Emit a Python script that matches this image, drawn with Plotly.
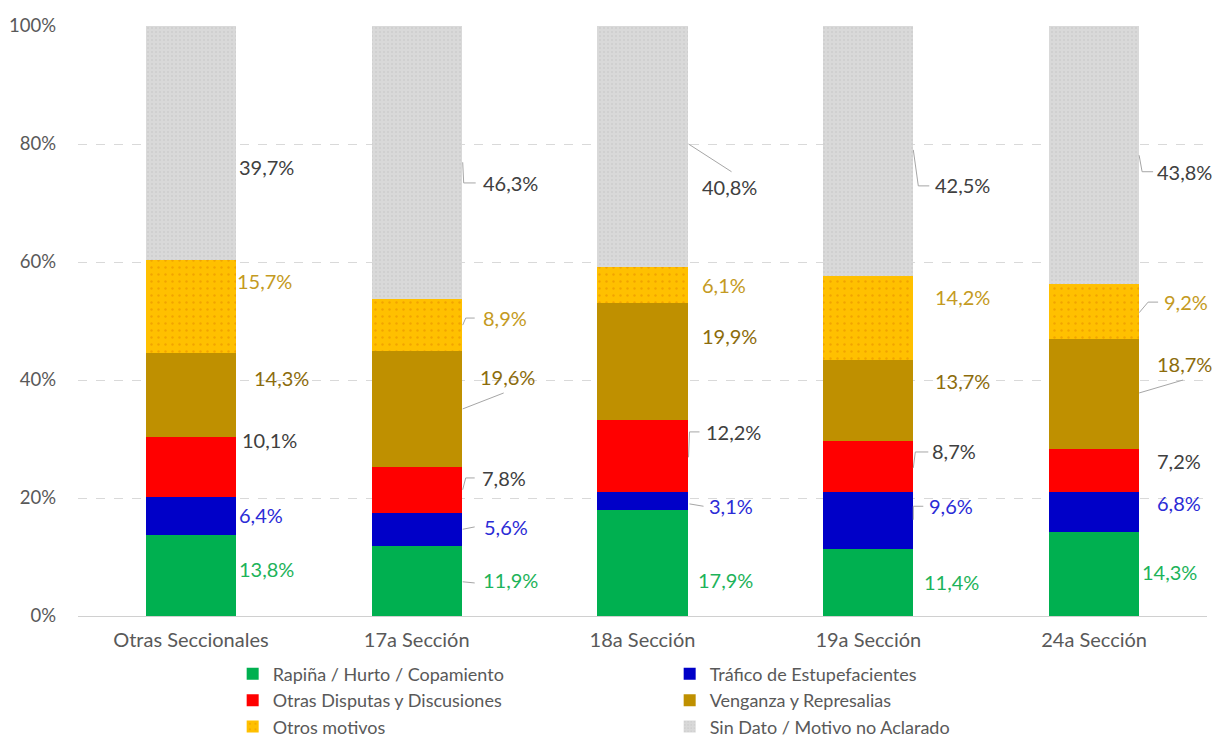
import plotly.graph_objects as go

# Homicide motives by police section (shares, %)
categories = ["Otras Seccionales", "17a Sección", "18a Sección", "19a Sección", "24a Sección"]
rapina = [13.8, 11.9, 17.9, 11.4, 14.3]
trafico = [6.4, 5.6, 3.1, 9.6, 6.8]
disputas = [10.1, 7.8, 12.2, 8.7, 7.2]
venganza = [14.3, 19.6, 19.9, 13.7, 18.7]
otros = [15.7, 8.9, 6.1, 14.2, 9.2]
sin_dato = [39.7, 46.3, 40.8, 42.5, 43.8]
y_ticks = [0, 20, 40, 60, 80, 100]
y_tick_labels = ["0%", "20%", "40%", "60%", "80%", "100%"]

series = [
    ("Rapiña / Hurto / Copamiento", rapina, "#00B050", None, "#1DB35A"),
    ("Tráfico de Estupefacientes", trafico, "#0000C8", None, "#2B2BD6"),
    ("Otras Disputas y Discusiones", disputas, "#FF0000", None, "#404040"),
    ("Venganza y Represalias", venganza, "#BF9000", None, "#8C6C0C"),
    ("Otros motivos", otros, "#FFC000",
     dict(shape=".", fillmode="overlay", fgcolor="#E38800", size=7, solidity=0.1), "#C49A22"),
    ("Sin Dato / Motivo no Aclarado", sin_dato, "#D9D9D9",
     dict(shape=".", fillmode="overlay", fgcolor="#C2C2C2", size=4, solidity=0.2), "#404040"),
]

# Label placement: pixel offset from bar centre (text left edge) and height in %
label_dx = [
    [46, 46, 49, 61, 44, 46],
    [64, 65, 63, 61, 64, 64],
    [53, 64, 61, 57, 57, 57],
    [54, 59, 62, 65, 65, 65],
    [46, 61, 61, 61, 68, 61],
]
label_y = [
    [8.0, 17.1, 29.8, 40.3, 56.8, 76.1],
    [6.1, 15.1, 23.4, 40.5, 50.5, 73.4],
    [6.1, 18.6, 31.2, 47.5, 56.1, 72.7],
    [5.8, 18.6, 28.0, 39.8, 54.1, 73.1],
    [7.5, 19.2, 26.3, 42.7, 53.2, 75.3],
]
# Leader lines: (category, [(dx_px, y%), ...])
leaders = [
    (1, [(46, 76.9), (47, 73.4), (59, 73.4)]),
    (1, [(46, 49.3), (49, 50.5), (58, 50.5)]),
    (1, [(46, 35.1), (87, 37.8)]),
    (1, [(46, 21.4), (49, 23.4), (58, 23.4)]),
    (1, [(46, 14.7), (58, 15.1)]),
    (1, [(46, 5.8), (58, 5.6)]),
    (2, [(46, 80.0), (89, 75.3)]),
    (2, [(46, 26.9), (47, 31.2), (57, 31.2)]),
    (2, [(47, 19.0), (61, 18.6)]),
    (3, [(45, 79.0), (50, 72.9), (61, 72.9)]),
    (3, [(45, 25.1), (47, 27.8), (60, 27.8)]),
    (3, [(45, 16.3), (45, 18.6), (55, 18.6)]),
    (4, [(45, 78.1), (48, 75.3), (59, 75.3)]),
    (4, [(45, 51.4), (54, 53.2), (64, 53.2)]),
    (4, [(45, 37.8), (89, 40.0)]),
]

FONT = "Lato"
GREY_TXT = "#595959"
FS = 20

fig = go.Figure()
for name, vals, color, pattern, _ in series:
    marker = dict(color=color, line=dict(width=0))
    if pattern:
        marker["pattern"] = pattern
    fig.add_trace(go.Bar(name=name, x=categories, y=vals, marker=marker))

annotations = []
for si, (name, vals, _, _, txt_color) in enumerate(series):
    for ci, v in enumerate(vals):
        annotations.append(dict(
            x=ci, y=label_y[ci][si], xref="x", yref="y",
            xanchor="left", yanchor="middle", xshift=label_dx[ci][si],
            text=f"{v:.1f}".replace(".", ",") + "%", showarrow=False,
            font=dict(family=FONT, size=FS, color=txt_color),
        ))

shapes = []
for ci, pts in leaders:
    for (x0, y0), (x1, y1) in zip(pts[:-1], pts[1:]):
        shapes.append(dict(
            type="line", xref="x", yref="y", xsizemode="pixel", xanchor=ci,
            x0=x0, x1=x1, y0=y0, y1=y1,
            line=dict(color="#A6A6A6", width=1),
        ))

fig.update_layout(
    barmode="stack",
    bargap=0.6,
    width=1213, height=738,
    margin=dict(l=78, r=6, t=26, b=122, autoexpand=False),
    plot_bgcolor="white", paper_bgcolor="white",
    font=dict(family=FONT, size=FS, color=GREY_TXT),
    annotations=annotations,
    shapes=shapes,
    showlegend=True,
    legend=dict(
        orientation="h", x=0.137, xanchor="left", y=-0.067, yanchor="top",
        entrywidth=392, entrywidthmode="pixels", traceorder="normal",
        font=dict(family=FONT, size=18, color=GREY_TXT),
        tracegroupgap=0,
        itemclick=False, itemdoubleclick=False,
    ),
    xaxis=dict(
        type="category", range=[-0.5, 4.5], showgrid=False,
        showline=True, linecolor="#D0D0D0", linewidth=1,
        ticks="", ticklabelstandoff=6,
        tickfont=dict(family=FONT, size=FS, color=GREY_TXT),
    ),
    yaxis=dict(
        range=[0, 100], tickvals=y_ticks, ticktext=y_tick_labels,
        showgrid=True, gridcolor="#D9D9D9", griddash="dash", gridwidth=1,
        zeroline=False, showline=False, ticks="", ticklabelstandoff=21,
        tickfont=dict(family=FONT, size=18.5, color=GREY_TXT),
    ),
)

fig.write_html("out.html")
